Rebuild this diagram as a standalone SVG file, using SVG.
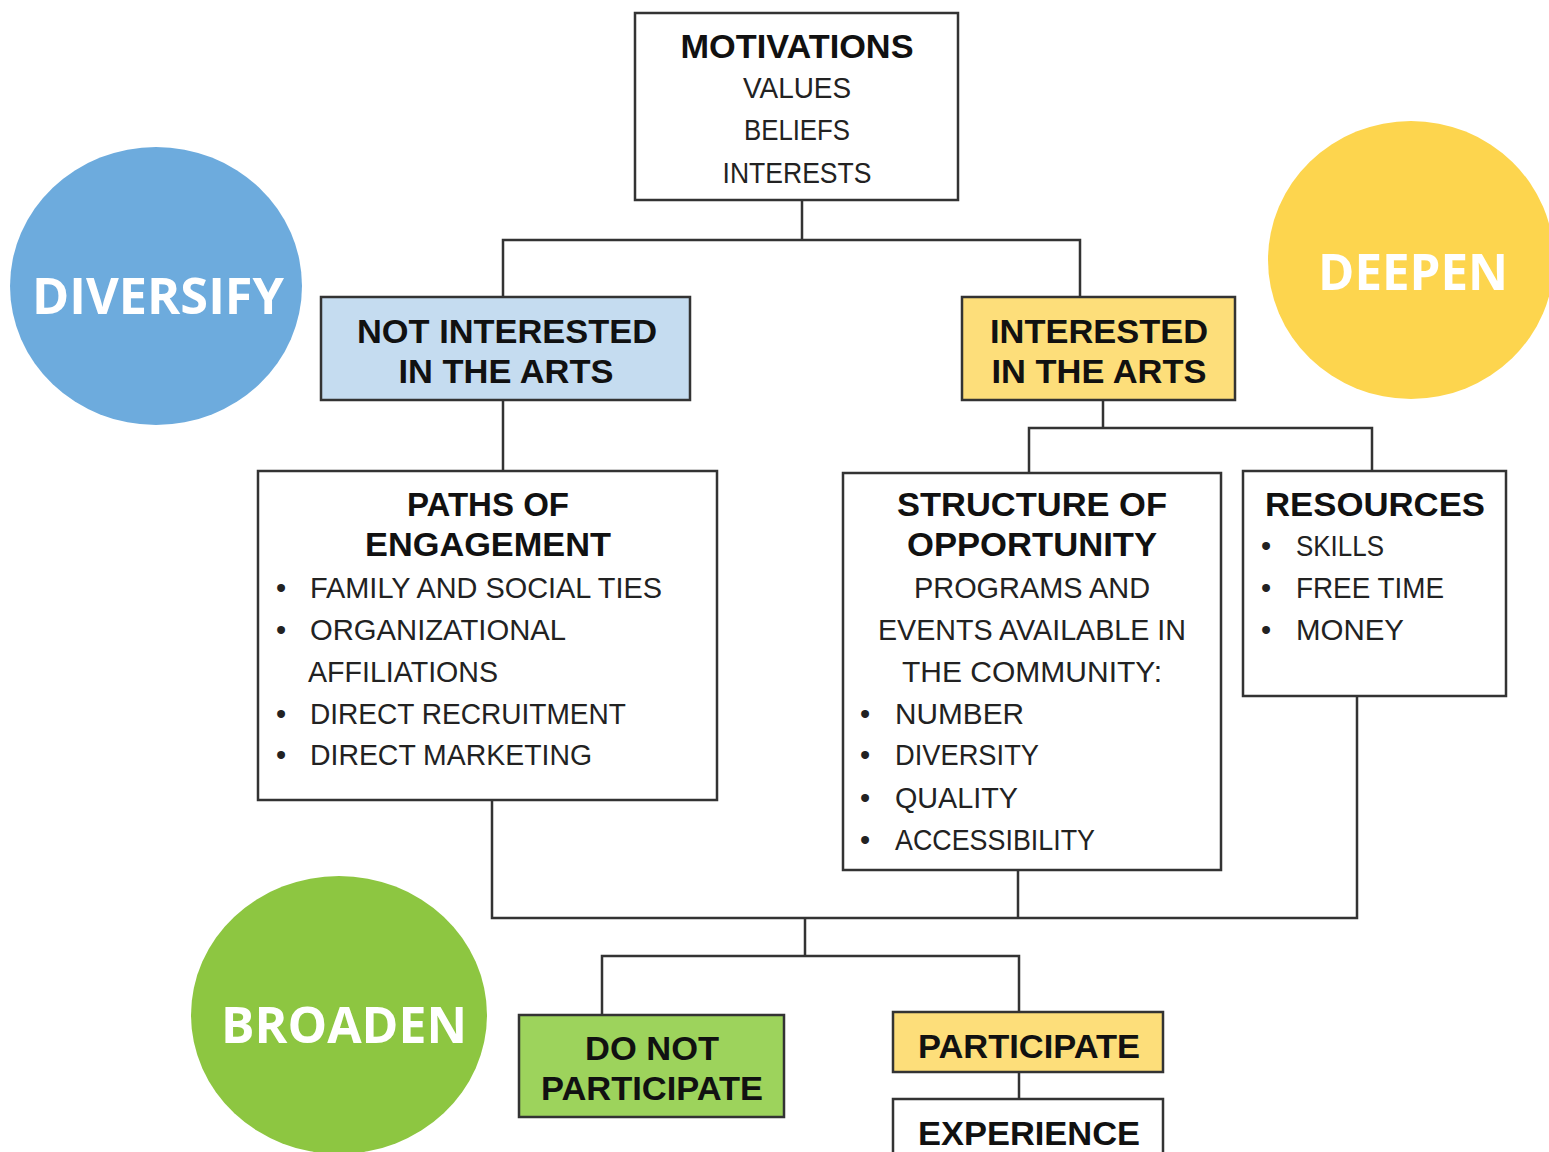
<svg xmlns="http://www.w3.org/2000/svg" width="1549" height="1152" viewBox="0 0 1549 1152">
<style>
.box{stroke:#333;stroke-width:2.5}
.h{font-family:"Liberation Sans",Arial,sans-serif;font-weight:bold;font-size:33px;fill:#111;text-anchor:middle}
.b{font-family:"Liberation Sans",Arial,sans-serif;font-size:29px;fill:#222}
.c{text-anchor:middle}
.circ{font-family:"Open Sans","Liberation Sans",sans-serif;font-weight:bold;font-size:50px;fill:#fff;text-anchor:middle}
.conn{stroke:#333;stroke-width:2.5;fill:none}
</style>
<rect width="1549" height="1152" fill="#fff"/>
<g id="connectors">
<path class="conn" d="M802 200V240M503 297V240H1080V297"/>
<path class="conn" d="M503 400V471"/>
<path class="conn" d="M1103 400V428M1029 473V428H1372V471"/>
<path class="conn" d="M492 800V918H1357V696M1018 870V918"/>
<path class="conn" d="M805 918V956M602 1015V956H1019V1012"/>
<path class="conn" d="M1019 1072V1099"/>
</g>
<g id="diversify">
<ellipse cx="156" cy="286" rx="146" ry="139" fill="#6DABDD"/>
<text class="circ" x="158" y="314" textLength="252" lengthAdjust="spacingAndGlyphs">DIVERSIFY</text>
</g>
<g id="deepen">
<ellipse cx="1411" cy="260" rx="143" ry="139" fill="#FDD54E"/>
<text class="circ" x="1413" y="290" textLength="190" lengthAdjust="spacingAndGlyphs">DEEPEN</text>
</g>
<g id="broaden">
<ellipse cx="339" cy="1015" rx="148" ry="139" fill="#8DC641"/>
<text class="circ" x="344" y="1043" textLength="246" lengthAdjust="spacingAndGlyphs">BROADEN</text>
</g>
<g id="motivations">
<rect class="box" x="635" y="13" width="323" height="187" fill="#fff"/>
<text class="h" x="797" y="58" textLength="233" lengthAdjust="spacingAndGlyphs">MOTIVATIONS</text>
<text class="b c" x="797" y="98" textLength="108" lengthAdjust="spacingAndGlyphs">VALUES</text>
<text class="b c" x="797" y="140" textLength="106" lengthAdjust="spacingAndGlyphs">BELIEFS</text>
<text class="b c" x="797" y="183" textLength="149" lengthAdjust="spacingAndGlyphs">INTERESTS</text>
</g>
<g id="not-interested">
<rect class="box" x="321" y="297" width="369" height="103" fill="#C5DCF0"/>
<text class="h" x="507" y="343" textLength="300" lengthAdjust="spacingAndGlyphs">NOT INTERESTED</text>
<text class="h" x="506" y="383" textLength="215" lengthAdjust="spacingAndGlyphs">IN THE ARTS</text>
</g>
<g id="interested">
<rect class="box" x="962" y="297" width="273" height="103" fill="#FDDE7A"/>
<text class="h" x="1099" y="343" textLength="218" lengthAdjust="spacingAndGlyphs">INTERESTED</text>
<text class="h" x="1099" y="383" textLength="215" lengthAdjust="spacingAndGlyphs">IN THE ARTS</text>
</g>
<g id="paths">
<rect class="box" x="258" y="471" width="459" height="329" fill="#fff"/>
<text class="h" x="488" y="516">PATHS OF</text>
<text class="h" x="488" y="556" textLength="246" lengthAdjust="spacingAndGlyphs">ENGAGEMENT</text>
<g class="b">
<text x="276" y="598">•</text><text x="310" y="598" textLength="352" lengthAdjust="spacingAndGlyphs">FAMILY AND SOCIAL TIES</text>
<text x="276" y="640">•</text><text x="310" y="640" textLength="256" lengthAdjust="spacingAndGlyphs">ORGANIZATIONAL</text>
<text x="308" y="682" textLength="190" lengthAdjust="spacingAndGlyphs">AFFILIATIONS</text>
<text x="276" y="724">•</text><text x="310" y="724" textLength="316" lengthAdjust="spacingAndGlyphs">DIRECT RECRUITMENT</text>
<text x="276" y="765">•</text><text x="310" y="765" textLength="282" lengthAdjust="spacingAndGlyphs">DIRECT MARKETING</text>
</g>
</g>
<g id="structure">
<rect class="box" x="843" y="473" width="378" height="397" fill="#fff"/>
<text class="h" x="1032" y="516" textLength="270" lengthAdjust="spacingAndGlyphs">STRUCTURE OF</text>
<text class="h" x="1032" y="556" textLength="250" lengthAdjust="spacingAndGlyphs">OPPORTUNITY</text>
<g class="b">
<text class="c" x="1032" y="598" textLength="236" lengthAdjust="spacingAndGlyphs">PROGRAMS AND</text>
<text class="c" x="1032" y="640" textLength="308" lengthAdjust="spacingAndGlyphs">EVENTS AVAILABLE IN</text>
<text class="c" x="1032" y="682" textLength="260" lengthAdjust="spacingAndGlyphs">THE COMMUNITY:</text>
<text x="860" y="724">•</text><text x="895" y="724" textLength="129" lengthAdjust="spacingAndGlyphs">NUMBER</text>
<text x="860" y="765">•</text><text x="895" y="765" textLength="144" lengthAdjust="spacingAndGlyphs">DIVERSITY</text>
<text x="860" y="808">•</text><text x="895" y="808" textLength="123" lengthAdjust="spacingAndGlyphs">QUALITY</text>
<text x="860" y="850">•</text><text x="895" y="850" textLength="200" lengthAdjust="spacingAndGlyphs">ACCESSIBILITY</text>
</g>
</g>
<g id="resources">
<rect class="box" x="1243" y="471" width="263" height="225" fill="#fff"/>
<text class="h" x="1375" y="516" textLength="220" lengthAdjust="spacingAndGlyphs">RESOURCES</text>
<g class="b">
<text x="1261" y="556">•</text><text x="1296" y="556" textLength="88" lengthAdjust="spacingAndGlyphs">SKILLS</text>
<text x="1261" y="598">•</text><text x="1296" y="598" textLength="148" lengthAdjust="spacingAndGlyphs">FREE TIME</text>
<text x="1261" y="640">•</text><text x="1296" y="640" textLength="108" lengthAdjust="spacingAndGlyphs">MONEY</text>
</g>
</g>
<g id="do-not-participate">
<rect class="box" x="519" y="1015" width="265" height="102" fill="#9DD35C"/>
<text class="h" x="652" y="1060" textLength="134" lengthAdjust="spacingAndGlyphs">DO NOT</text>
<text class="h" x="652" y="1100" textLength="222" lengthAdjust="spacingAndGlyphs">PARTICIPATE</text>
</g>
<g id="participate">
<rect class="box" x="893" y="1012" width="270" height="60" fill="#FDDE7A"/>
<text class="h" x="1029" y="1058" textLength="222" lengthAdjust="spacingAndGlyphs">PARTICIPATE</text>
</g>
<g id="experience">
<rect class="box" x="893" y="1099" width="270" height="60" fill="#fff"/>
<text class="h" x="1029" y="1145" textLength="222" lengthAdjust="spacingAndGlyphs">EXPERIENCE</text>
</g>
</svg>
